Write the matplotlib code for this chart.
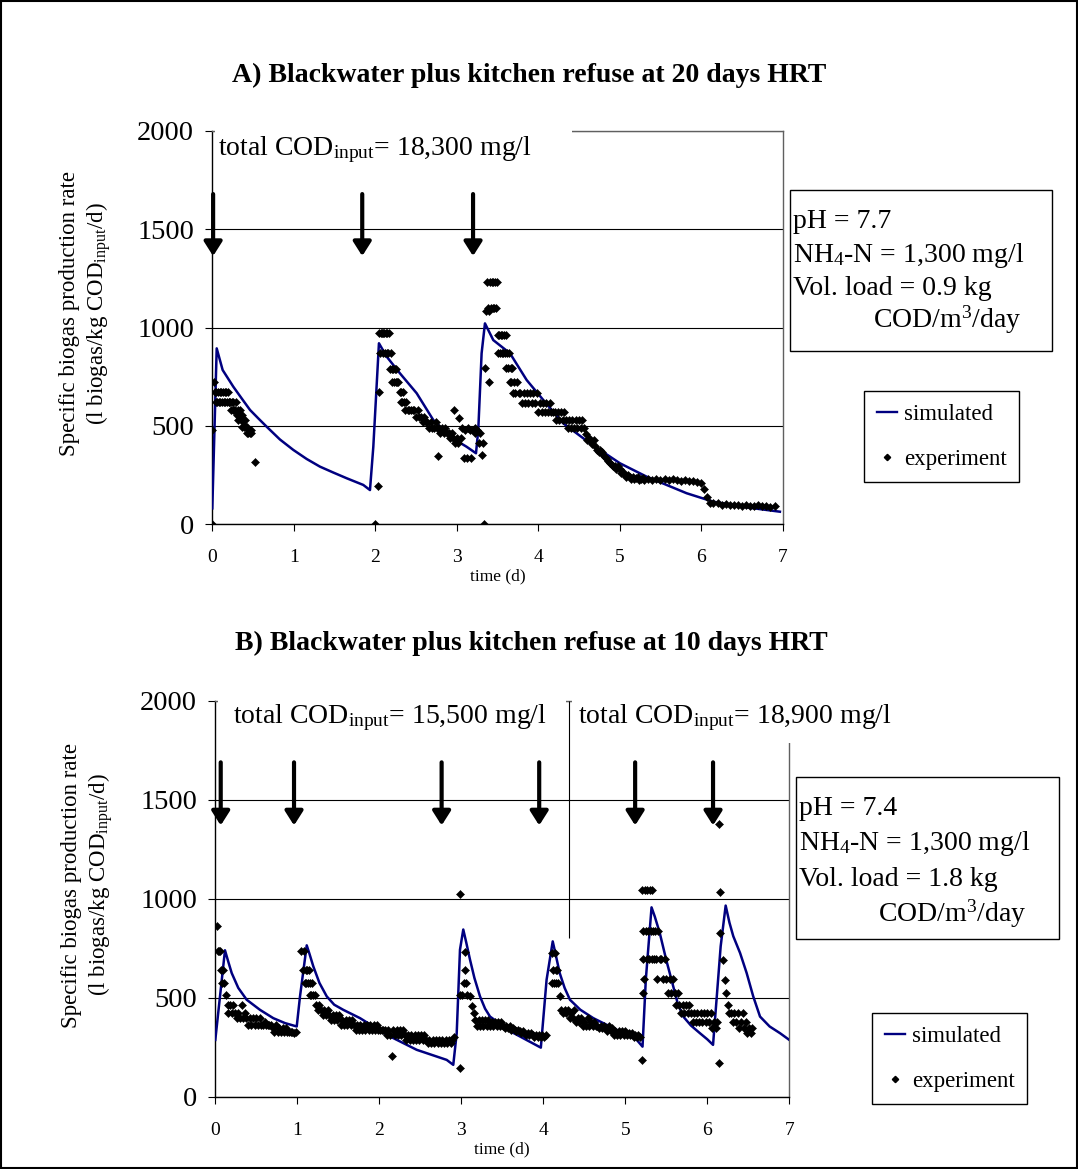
import matplotlib
matplotlib.use("Agg")
import matplotlib.pyplot as plt
from matplotlib.patches import Rectangle
from matplotlib.lines import Line2D

plt.rcParams['font.family'] = ['Liberation Serif', 'DejaVu Serif']
plt.rcParams['mathtext.fontset'] = 'custom'
plt.rcParams['mathtext.rm'] = 'Liberation Serif'
plt.rcParams['mathtext.it'] = 'Liberation Serif:italic'
plt.rcParams['mathtext.bf'] = 'Liberation Serif:bold'

# ---------------- data ----------------
x_ticks = [0, 1, 2, 3, 4, 5, 6, 7]
y_ticks = [0, 500, 1000, 1500, 2000]

# Panel A: simulated
sim_a_t = [0.00, 0.054, 0.127, 0.258, 0.36, 0.463, 0.565, 0.667, 0.83, 0.994, 1.158, 1.321,
           1.485, 1.649, 1.853, 1.935, 1.976,
           2.045, 2.14, 2.303, 2.508, 2.712, 2.917, 3.121, 3.236, 3.264, 3.305, 3.346, 3.448,
           3.653, 3.858, 4.061, 4.307, 4.634, 5.003, 5.33, 5.82, 6.147, 6.557, 6.966]
sim_a_v = [81, 894, 784, 699, 640, 581, 538, 496, 431, 378, 332, 293,
           263, 234, 200, 174, 394,
           920, 852, 767, 666, 530, 445, 394, 361, 479, 869, 1021, 936,
           869, 733, 632, 513, 412, 310, 242, 158, 115, 86, 64]

# Panel A: experiment
exp_a_t = [0.00, 0.00, 0.02, 0.03, 0.04, 0.05, 0.06, 0.07, 0.08, 0.09, 0.10, 0.11, 0.12, 0.13,
           0.14, 0.15, 0.16, 0.17, 0.18, 0.19, 0.20, 0.21, 0.22, 0.23, 0.24, 0.25, 0.26, 0.27,
           0.28, 0.29, 0.30, 0.31, 0.32, 0.33, 0.34, 0.35, 0.36, 0.37, 0.38, 0.39, 0.40, 0.41,
           0.42, 0.43, 0.44, 0.45, 0.46, 0.47, 0.48, 0.52,
           1.996, 2.03, 2.04, 2.05, 2.06, 2.07, 2.08, 2.09, 2.10, 2.11, 2.12, 2.13, 2.14, 2.15,
           2.16, 2.17, 2.18, 2.19, 2.20, 2.21, 2.22, 2.23, 2.24, 2.25, 2.26, 2.27, 2.28, 2.30,
           2.31, 2.32, 2.33, 2.34, 2.35, 2.36, 2.38, 2.40, 2.42, 2.44, 2.46, 2.48, 2.50, 2.52,
           2.54, 2.56, 2.58, 2.60, 2.62, 2.64, 2.66, 2.68, 2.70, 2.72, 2.74, 2.76, 2.77, 2.78,
           2.80, 2.82, 2.84, 2.86, 2.88, 2.90, 2.92, 2.94, 2.96, 2.97, 2.98, 3.00, 3.02, 3.03,
           3.05, 3.07, 3.09, 3.10, 3.12, 3.14, 3.16, 3.18, 3.20, 3.22, 3.23, 3.25, 3.27, 3.29,
           3.31, 3.32,
           3.34, 3.35, 3.36, 3.37, 3.38, 3.39, 3.40, 3.41, 3.42, 3.43, 3.44, 3.45, 3.46, 3.47,
           3.48, 3.49, 3.50, 3.51, 3.52, 3.53, 3.54, 3.55, 3.56, 3.57, 3.58, 3.59, 3.60, 3.61,
           3.62, 3.63, 3.64, 3.65, 3.66, 3.67, 3.68, 3.69, 3.70, 3.72, 3.74, 3.76, 3.78, 3.80,
           3.82, 3.84, 3.86, 3.88, 3.90, 3.92, 3.94, 3.96, 3.98, 4.00, 4.02, 4.04, 4.06, 4.08,
           4.10, 4.12, 4.14, 4.16, 4.18, 4.20, 4.22, 4.24, 4.26, 4.28, 4.30, 4.32, 4.34, 4.36,
           4.38, 4.40, 4.42, 4.44, 4.46, 4.48, 4.50, 4.52, 4.54, 4.56, 4.58, 4.60, 4.62, 4.64,
           4.66, 4.68, 4.70, 4.72, 4.74, 4.76, 4.78, 4.80, 4.82, 4.84, 4.86, 4.88, 4.90, 4.92,
           4.94, 4.96, 4.98, 5.00, 5.02, 5.04, 5.06, 5.08, 5.10, 5.12, 5.14, 5.16, 5.18, 5.20,
           5.22, 5.24, 5.26, 5.28, 5.30, 5.35, 5.40, 5.45, 5.50, 5.55, 5.60, 5.65, 5.70, 5.75,
           5.80, 5.85, 5.90, 5.95, 6.00, 6.03, 6.07, 6.11, 6.15, 6.20, 6.25, 6.30, 6.35, 6.40,
           6.45, 6.50, 6.55, 6.60, 6.65, 6.70, 6.75, 6.80, 6.85, 6.90]
exp_a_v = [0, 480, 725, 674, 623, 674, 623, 674, 623, 674, 623, 674, 623, 674,
           623, 674, 623, 674, 623, 674, 623, 623, 623, 581, 623, 581, 623, 581,
           581, 623, 555, 581, 530, 555, 581, 530, 555, 496, 530, 496, 530, 496,
           463, 496, 463, 480, 463, 463, 480, 315,
           0, 195, 674, 970, 872, 970, 970, 872, 970, 970, 872, 970, 872, 970,
           872, 970, 788, 872, 788, 725, 788, 725, 788, 725, 788, 725, 725, 674,
           623, 674, 623, 674, 623, 581, 623, 581, 581, 581, 581, 581, 547, 581,
           547, 547, 520, 547, 520, 520, 487, 520, 487, 487, 520, 487, 347, 487,
           462, 487, 462, 487, 462, 462, 438, 462, 438, 581, 411, 438, 411, 538,
           438, 487, 335, 479, 335, 487, 479, 335, 479, 487, 462, 479, 411, 462,
           352, 411,
           0, 793, 1084, 1233, 1100, 1084, 725, 1233, 1100, 1233, 1100, 1233, 1100, 1233,
           1100, 1233, 962, 869, 962, 869, 962, 869, 962, 869, 962, 869, 962, 793,
           869, 793, 869, 725, 793, 725, 793, 666, 725, 666, 725, 666, 666, 618,
           666, 618, 666, 618, 666, 618, 666, 618, 666, 572, 618, 572, 618, 572,
           618, 572, 618, 572, 572, 572, 530, 572, 530, 572, 530, 572, 530, 490,
           530, 490, 530, 490, 530, 490, 530, 490, 530, 490, 460, 428, 440, 428,
           410, 428, 400, 380, 367, 380, 367, 350, 340, 330, 320, 310, 300, 296,
           296, 280, 296, 280, 260, 268, 250, 242, 250, 242, 230, 242, 230, 236,
           242, 226, 230, 236, 226, 230, 226, 230, 226, 230, 226, 230, 226, 222,
           226, 222, 222, 215, 210, 180, 140, 110, 107, 107, 100, 102, 100, 98,
           100, 95, 100, 95, 92, 97, 92, 95, 90, 92]

# Panel B: simulated
sim_b_t = [0.0, 0.118, 0.16, 0.2, 0.28, 0.383, 0.545, 0.707, 0.85, 0.993,
           1.033, 1.115, 1.15, 1.195, 1.27, 1.359, 1.45, 1.561, 1.765, 2.09, 2.456, 2.822, 2.902,
           2.944, 2.984, 3.024, 3.06, 3.106, 3.16, 3.228, 3.29, 3.35, 3.6, 3.97,
           4.04, 4.115, 4.15, 4.2, 4.26, 4.325, 4.45, 4.61, 4.895, 5.14, 5.21,
           5.25, 5.32, 5.36, 5.42, 5.5, 5.585, 5.64, 5.707, 5.8, 5.91, 6.0, 6.07,
           6.163, 6.224, 6.27, 6.317, 6.4, 6.48, 6.56, 6.643, 6.76, 6.887, 7.0]
sim_b_v = [287, 740, 680, 625, 550, 490, 439, 397, 372, 355,
           507, 765, 720, 659, 575, 507, 465, 439, 397, 313, 237, 186, 161,
           321, 743, 845, 780, 693, 600, 507, 445, 405, 330, 248,
           591, 785, 720, 625, 550, 490, 440, 397, 338, 287, 253,
           591, 957, 910, 828, 690, 557, 470, 405, 360, 321, 290, 262,
           760, 966, 880, 811, 726, 625, 507, 405, 355, 321, 287]

# Panel B: experiment
exp_b_t = [0.02, 0.03, 0.05, 0.06, 0.07, 0.08, 0.09, 0.11, 0.13, 0.15, 0.16, 0.18, 0.20, 0.22,
           0.24, 0.26, 0.28, 0.30, 0.32, 0.34, 0.36, 0.38, 0.40, 0.42, 0.44, 0.46, 0.48, 0.50,
           0.52, 0.54, 0.56, 0.58, 0.60, 0.62, 0.64, 0.66, 0.68, 0.70, 0.72, 0.74, 0.76, 0.78,
           0.80, 0.82, 0.84, 0.86, 0.88, 0.90, 0.92, 0.94, 0.96, 0.98,
           1.05, 1.07, 1.08, 1.09, 1.10, 1.11, 1.12, 1.13, 1.14, 1.15, 1.16, 1.17, 1.18, 1.19,
           1.21, 1.23, 1.25, 1.27, 1.29, 1.31, 1.33, 1.35, 1.37, 1.39, 1.41, 1.43, 1.45, 1.47,
           1.49, 1.51, 1.53, 1.55, 1.57, 1.59, 1.61, 1.63, 1.65, 1.67, 1.69, 1.71, 1.73, 1.75,
           1.77, 1.79, 1.81, 1.83, 1.85, 1.87, 1.89, 1.91, 1.93, 1.95, 1.97, 1.99, 2.01, 2.03,
           2.05, 2.07, 2.09, 2.11, 2.13, 2.15, 2.17, 2.19, 2.21, 2.23, 2.25, 2.27, 2.29, 2.31,
           2.33, 2.35, 2.37, 2.39, 2.41, 2.43, 2.45, 2.47, 2.49, 2.51, 2.53, 2.55, 2.57, 2.59,
           2.61, 2.63, 2.65, 2.67, 2.69, 2.71, 2.73, 2.75, 2.77, 2.79, 2.81, 2.83, 2.85, 2.87,
           2.89, 2.91, 2.98, 2.985,
           2.99, 3.01, 3.03, 3.045, 3.05, 3.06, 3.07, 3.11, 3.13, 3.15, 3.17, 3.19, 3.21, 3.23,
           3.25, 3.27, 3.29, 3.31, 3.33, 3.35, 3.37, 3.39, 3.41, 3.43, 3.45, 3.47, 3.49, 3.51,
           3.53, 3.55, 3.57, 3.59, 3.61, 3.63, 3.65, 3.67, 3.69, 3.71, 3.73, 3.75, 3.77, 3.79,
           3.81, 3.83, 3.85, 3.87, 3.89, 3.91, 3.93, 3.95, 3.97, 3.99, 4.01, 4.03,
           4.10, 4.11, 4.12, 4.13, 4.14, 4.15, 4.16, 4.17, 4.18, 4.20, 4.22, 4.24, 4.26, 4.28,
           4.30, 4.32, 4.34, 4.36, 4.38, 4.40, 4.42, 4.44, 4.46, 4.48, 4.50, 4.52, 4.54, 4.56,
           4.58, 4.60, 4.62, 4.64, 4.66, 4.68, 4.70, 4.72, 4.74, 4.76, 4.78, 4.80, 4.82, 4.84,
           4.86, 4.88, 4.90, 4.92, 4.94, 4.96, 4.98, 5.00, 5.02, 5.04, 5.06, 5.08, 5.10, 5.12,
           5.14, 5.16, 5.18, 5.207,
           5.20, 5.21, 5.215, 5.22, 5.23, 5.24, 5.25, 5.26, 5.27, 5.28, 5.29, 5.30, 5.31, 5.32,
           5.33, 5.34, 5.35, 5.36, 5.38, 5.39, 5.40, 5.42, 5.44, 5.46, 5.48, 5.50, 5.52, 5.54,
           5.56, 5.58, 5.60, 5.62, 5.64, 5.66, 5.68, 5.70, 5.72, 5.74, 5.76, 5.78, 5.80, 5.82,
           5.84, 5.86, 5.88, 5.90, 5.92, 5.94, 5.96, 5.98, 6.00, 6.02, 6.04, 6.06, 6.08, 6.10,
           6.12,
           6.146, 6.15, 6.155, 6.146, 6.19, 6.21, 6.23, 6.25, 6.27, 6.29, 6.31, 6.33, 6.35, 6.37,
           6.39, 6.41, 6.43, 6.45, 6.47, 6.49, 6.51, 6.53, 6.55]
exp_b_v = [861, 735, 735, 735, 642, 574, 642, 574, 515, 465, 422, 465, 422, 465,
           422, 397, 422, 397, 465, 397, 422, 397, 363, 397, 363, 397, 363, 397,
           363, 397, 363, 363, 380, 363, 363, 363, 363, 346, 329, 363, 329, 346,
           329, 346, 329, 346, 329, 329, 329, 329, 320, 329,
           735, 642, 735, 574, 642, 574, 642, 574, 642, 515, 574, 515, 574, 515,
           515, 465, 439, 465, 439, 414, 439, 414, 439, 414, 389, 414, 389, 414,
           389, 414, 363, 389, 363, 389, 363, 389, 363, 389, 363, 338, 363, 338,
           363, 338, 363, 338, 363, 338, 363, 338, 363, 338, 363, 338, 338, 338,
           338, 338, 313, 338, 313, 206, 338, 313, 338, 313, 338, 313, 338, 313,
           287, 313, 287, 313, 287, 313, 287, 313, 287, 313, 287, 313, 287, 270,
           287, 270, 287, 270, 287, 270, 287, 270, 287, 270, 287, 270, 287, 270,
           287, 300, 1025, 144,
           515, 515, 574, 730, 642, 574, 515, 507, 456, 422, 389, 355, 389, 355,
           389, 355, 389, 355, 389, 355, 380, 355, 380, 355, 380, 355, 380, 355,
           346, 355, 346, 355, 338, 346, 338, 330, 338, 330, 321, 330, 321, 313,
           321, 313, 321, 313, 304, 313, 304, 313, 304, 313, 304, 313,
           574, 726, 642, 574, 726, 642, 574, 642, 574, 507, 439, 422, 439, 422,
           439, 400, 422, 400, 439, 380, 400, 380, 400, 355, 380, 355, 400, 355,
           380, 355, 380, 355, 355, 346, 355, 346, 355, 346, 330, 355, 330, 346,
           313, 330, 313, 330, 313, 330, 313, 330, 313, 321, 313, 321, 304, 313,
           304, 313, 304, 186,
           1047, 523, 696, 836, 595, 1047, 836, 696, 1047, 836, 696, 1047, 836, 696,
           1047, 836, 696, 836, 696, 595, 836, 696, 696, 595, 696, 595, 523, 595,
           523, 595, 523, 464, 523, 464, 422, 464, 422, 464, 422, 464, 422, 380,
           422, 380, 422, 380, 422, 380, 422, 380, 422, 380, 422, 346, 380, 346,
           380,
           1380, 1037, 828, 172, 693, 591, 523, 464, 422, 422, 380, 422, 380, 422,
           346, 380, 422, 346, 380, 321, 346, 321, 346]

# Arrows (feeding times) and annotations
arrows_a_t = [0.01, 1.84, 3.20]
arrows_b_t = [0.066, 0.96, 2.76, 3.95, 5.12, 6.07]
arrow_a_top, arrow_a_tip = 1678, 1363
arrow_b_top, arrow_b_tip = 1690, 1371
divider_b_t = 4.31
divider_b_range = (800, 2000)

title_a = "A) Blackwater plus kitchen refuse at 20 days HRT"
title_b = "B) Blackwater plus kitchen refuse at 10 days HRT"
cod_a = ["total COD$_{\\mathrm{input}}$= 18,300 mg/l"]
cod_b = ["total COD$_{\\mathrm{input}}$= 15,500 mg/l", "total COD$_{\\mathrm{input}}$= 18,900 mg/l"]
info_a = ["pH = 7.7", "NH$_4$-N = 1,300 mg/l", "Vol. load = 0.9 kg", "COD/m$^3$/day"]
info_b = ["pH = 7.4", "NH$_4$-N = 1,300 mg/l", "Vol. load = 1.8 kg", "COD/m$^3$/day"]
ylabel = "Specific biogas production rate\n(l biogas/kg COD$_{\\mathrm{input}}$/d)"
xlabel = "time (d)"

# ---------------- figure ----------------
W, H = 1078, 1169
fig = plt.figure(figsize=(W / 100, H / 100), dpi=100)
fig.patch.set_facecolor('white')

def fx(px):
    return px / W

def fy(py):
    return 1 - py / H

LINE_C = '#000080'


def setup_axes(left, right, top, bottom):
    ax = fig.add_axes([fx(left), fy(bottom), fx(right) - fx(left), fy(top) - fy(bottom)])
    ax.set_xlim(0, 7)
    ax.set_ylim(0, 2000)
    ax.set_xticks(x_ticks)
    ax.set_yticks(y_ticks)
    ax.tick_params(axis='y', direction='out', length=5, width=0.8, labelsize=20.5, pad=8)
    ax.tick_params(axis='x', direction='out', length=5, width=0.8, labelsize=14, pad=13)
    for side in ['left', 'bottom']:
        ax.spines[side].set_color('black')
        ax.spines[side].set_linewidth(1.0)
    for side in ['top', 'right']:
        ax.spines[side].set_color('#606060')
        ax.spines[side].set_linewidth(1.0)
    ax.yaxis.grid(True, color='black', linewidth=0.8)
    ax.set_axisbelow(True)
    ax.set_xlabel(xlabel, fontsize=12.5)
    return ax


def draw_panel(ax, sim_t, sim_v, exp_t, exp_v, arrows, top, tip):
    ax.plot(sim_t, sim_v, color=LINE_C, lw=1.8, zorder=3, label='simulated',
            solid_joinstyle='round')
    ax.plot(exp_t, exp_v, linestyle='none', marker='D', markersize=4.2, color='black',
            markeredgewidth=0.4, zorder=4, label='experiment')
    for t in arrows:
        ax.annotate('', xy=(t, tip), xytext=(t, top),
                    arrowprops=dict(arrowstyle='-|>,head_length=8.5,head_width=5.4',
                                    mutation_scale=1, color='black', lw=3,
                                    shrinkA=0, shrinkB=0), zorder=5)


# ---- panel A ----
axA = setup_axes(212.3, 782.7, 130.7, 524.3)
draw_panel(axA, sim_a_t, sim_a_v, exp_a_t, exp_a_v, arrows_a_t, arrow_a_top, arrow_a_tip)
axA.xaxis.set_label_coords(0.5, -0.112)
axA.add_patch(Rectangle((0.004, 0.93), 0.627, 0.09, transform=axA.transAxes,
                        facecolor='white', edgecolor='none', clip_on=False, zorder=2.6))
axA.text(0.07, 1876, cod_a[0], fontsize=20, va='baseline', ha='left', zorder=6)

# ---- panel B ----
axB = setup_axes(215.3, 789.3, 701.0, 1096.7)
draw_panel(axB, sim_b_t, sim_b_v, exp_b_t, exp_b_v, arrows_b_t, arrow_b_top, arrow_b_tip)
axB.xaxis.set_label_coords(0.5, -0.112)
axB.vlines(divider_b_t, divider_b_range[0], divider_b_range[1], color='black', lw=0.8, zorder=2.7)
axB.add_patch(Rectangle((0.004, 0.894), 0.607, 0.13, transform=axB.transAxes,
                        facecolor='white', edgecolor='none', clip_on=False, zorder=2.6))
axB.add_patch(Rectangle((0.6214, 0.894), 0.58, 0.13, transform=axB.transAxes,
                        facecolor='white', edgecolor='none', clip_on=False, zorder=2.6))
axB.text(0.22, 1890, cod_b[0], fontsize=20, va='baseline', ha='left', zorder=6)
axB.text(4.42, 1890, cod_b[1], fontsize=20, va='baseline', ha='left', zorder=6, clip_on=False)

# ---- titles ----
fig.text(fx(529), fy(75), title_a, fontsize=20, weight='bold', ha='center', va='center')
fig.text(fx(531), fy(643), title_b, fontsize=20, weight='bold', ha='center', va='center')

# ---- y labels ----
fig.text(fx(86), fy(314), ylabel, fontsize=16.5, rotation=90, ha='center', va='center',
         multialignment='center', linespacing=1.25)
fig.text(fx(88), fy(885), ylabel, fontsize=16.5, rotation=90, ha='center', va='center',
         multialignment='center', linespacing=1.25)

# ---- info boxes ----
def info_box(left, top, right, bottom, lines, x_text, x_cod, baselines):
    fig.patches.append(Rectangle((fx(left), fy(bottom)), fx(right) - fx(left), fy(top) - fy(bottom),
                                 transform=fig.transFigure, facecolor='white', edgecolor='black',
                                 linewidth=1.0))
    for i, (line, b) in enumerate(zip(lines, baselines)):
        xx = x_cod if i == 3 else x_text
        fig.text(fx(xx), fy(b), line, fontsize=20, ha='left', va='baseline')

info_box(790, 190, 1052, 351, info_a, 793, 873, [228, 262, 295, 328])
info_box(796, 777, 1059, 939, info_b, 799, 878, [815, 850, 886, 922])

# ---- legends ----
handles = [Line2D([], [], color=LINE_C, lw=1.7),
           Line2D([], [], linestyle='none', marker='D', markersize=3.2, color='black')]
labels = ['simulated', 'experiment']
for ax, (lx, ly) in [(axA, (864, 391)), (axB, (872, 1013))]:
    leg = ax.legend(handles, labels, loc='upper left', bbox_to_anchor=(fx(lx), fy(ly)),
                    bbox_transform=fig.transFigure, fontsize=16.5, frameon=True,
                    fancybox=False, framealpha=1, edgecolor='black', handlelength=0.9,
                    handletextpad=0.3, labelspacing=1.05, borderpad=0.55, borderaxespad=0)
    leg.get_frame().set_linewidth(1.0)

# ---- outer border ----
fig.patches.append(Rectangle((0.0008, 0.0008), 0.9984, 0.9984, transform=fig.transFigure,
                             fill=False, edgecolor='black', linewidth=1.5))

fig.savefig('out.png', dpi=100)
